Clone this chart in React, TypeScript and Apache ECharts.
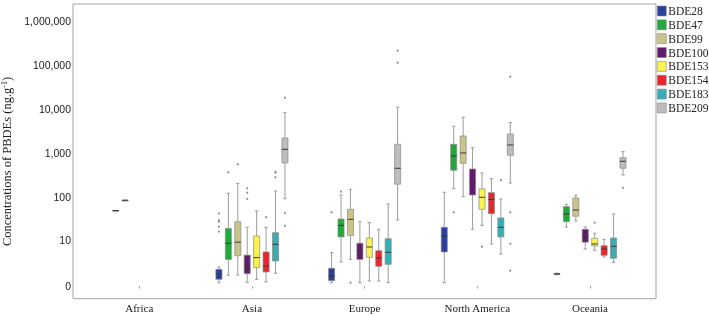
import React, { useEffect, useRef } from 'react';
import * as echarts from 'echarts';

// ---------- data (concentrations in ng/g) ----------
const regions = ['Africa', 'Asia', 'Europe', 'North America', 'Oceania'];
const congeners = ['BDE28', 'BDE47', 'BDE99', 'BDE100', 'BDE153', 'BDE154', 'BDE183', 'BDE209'];
const colors = ['#2b3f9c', '#22a83b', '#c9c489', '#611b6c', '#faf24e', '#e8262c', '#33afb5', '#bdbdbd'];

type Five = [number, number, number, number, number] | null; // min, Q1, median, Q3, max

const bde28: Five[] = [null, [0.19, 0.42, 0.87, 1.39, 1.7], [0.19, 0.32, 0.69, 1.52, 4.7], [0.19, 4.9, 12.5, 20.3, 131], [0.8, 0.84, 0.87, 0.93, 0.95]];
const bde47: Five[] = [[50, 50, 50, 50, 50], [0.75, 3.0, 8.3, 19, 124], [2.5, 11.9, 22.6, 31.8, 113.5], [159, 414, 872, 1603, 4093], [20.6, 27.5, 41.6, 61.3, 69.6]];
const bde99: Five[] = [[86, 86, 86, 86, 86], [0.78, 3.86, 8.8, 27.5, 209], [3.0, 12.8, 31.3, 53.4, 153], [104, 596, 1019, 2472, 6540], [28.6, 36.8, 51.5, 97, 111.7]];
const bde100: Five[] = [null, [0.22, 0.9, 1.47, 4.0, 20.3], [0.19, 3.0, 5.3, 8.3, 27.5], [18.2, 113.5, 213, 442, 1343], [5.88, 8.8, 12.5, 18.2, 20.6]];
const bde153: Five[] = [null, [0.42, 1.6, 3.4, 12.5, 48.8], [0.3, 3.47, 6.64, 11.2, 26.1], [22.6, 53.4, 100.6, 156.4, 359.6], [5.43, 7.05, 7.93, 11.0, 14.6]];
const bde154: Five[] = [null, [0.24, 1.08, 1.84, 4.9, 20.3], [0.3, 1.8, 3.31, 5.3, 18.2], [7.93, 42.3, 90.5, 128, 267], [3.54, 3.96, 5.88, 7.17, 10.4]];
const bde183: Five[] = [null, [0.94, 2.69, 7.8, 15.1, 140], [0.19, 2.1, 4.8, 10.8, 70.7], [4.3, 11.9, 20.3, 33.6, 92], [2.44, 3.24, 6.92, 11.2, 41.6]];
const bde209: Five[] = [null, [93, 606, 1236, 2228, 8318], [30.2, 200, 459, 1603, 11005], [213, 904, 1546, 2742, 4935], [323, 459, 661, 797, 1090]];

// outliers: [region index, concentration]
const out28: [number, number][] = [[1, 43], [1, 30], [1, 27.5], [1, 21], [1, 16], [2, 45.5]];
const out47: [number, number][] = [[1, 372], [2, 135], [3, 45.5]];
const out99: [number, number][] = [[1, 565], [2, 0.19]];
const out100: [number, number][] = [[1, 161], [1, 128], [1, 93]];
const out153: [number, number][] = [[3, 6.76], [4, 26.1]];
const out154: [number, number][] = [[1, 35]];
const out183: [number, number][] = [[1, 379], [1, 365], [1, 287], [3, 246]];
const out209: [number, number][] = [[1, 18150], [1, 44], [1, 22], [2, 209400], [2, 112200], [3, 54100], [3, 45.5], [3, 8.1], [3, 1.22], [4, 166]];

const yTickValues = [0, 10, 100, 1000, 10000, 100000, 1000000];

const summaries = [bde28, bde47, bde99, bde100, bde153, bde154, bde183, bde209];
const outliers = [out28, out47, out99, out100, out153, out154, out183, out209];

// ---------- helpers ----------
const toAxis = (c: number) => Math.log10(c + 1);
const fromAxis = (v: number) => Math.round(Math.pow(10, v) - 1);
const SERIF = '"Liberation Serif", "Times New Roman", serif';
const SANS = '"Liberation Sans", Arial, sans-serif';
const SLOT = 0.0837; // fraction of band per congener slot
const BOXF = 0.054;  // box width as fraction of band
const CAPF = 0.03;

const slotX = (api: any, xi: number, k: number) => {
  const band = api.size([1, 0])[0];
  return { cx: api.coord([xi, 0])[0] + (k - 3.5) * band * SLOT, band };
};

const makeBoxRender = (k: number) => (params: any, api: any) => {
  const xi = api.value(0);
  const { cx, band } = slotX(api, xi, k);
  const y = (d: number) => api.coord([xi, api.value(d)])[1];
  const yMin = y(1), yQ1 = y(2), yMed = y(3), yQ3 = y(4), yMax = y(5);
  const bw = band * BOXF;
  const hw = bw / 2;
  const cw = (band * CAPF) / 2;
  const whisker = { stroke: '#9c9c9c', lineWidth: 1 };
  return {
    type: 'group',
    children: [
      { type: 'line', shape: { x1: cx, y1: yMax, x2: cx, y2: yQ3 }, style: whisker },
      { type: 'line', shape: { x1: cx, y1: yQ1, x2: cx, y2: yMin }, style: whisker },
      { type: 'line', shape: { x1: cx - cw, y1: yMax, x2: cx + cw, y2: yMax }, style: whisker },
      { type: 'line', shape: { x1: cx - cw, y1: yMin, x2: cx + cw, y2: yMin }, style: whisker },
      {
        type: 'rect',
        shape: { x: cx - hw, y: yQ3, width: bw, height: Math.max(yQ1 - yQ3, 0.8) },
        style: { fill: api.visual('color'), stroke: '#8a8a8a', lineWidth: 0.7 },
      },
      { type: 'line', shape: { x1: cx - hw, y1: yMed, x2: cx + hw, y2: yMed }, style: { stroke: '#3a3a3a', lineWidth: 1 } },
    ],
  };
};

const makeOutlierRender = (k: number) => (params: any, api: any) => {
  const xi = api.value(0);
  const { cx } = slotX(api, xi, k);
  const py = api.coord([xi, api.value(1)])[1];
  return { type: 'circle', shape: { cx, cy: py, r: 1.1 }, style: { fill: '#8f8f8f' } };
};

export default function App() {
  const ref = useRef<HTMLDivElement>(null);
  useEffect(() => {
    if (!ref.current) return;
    const chart = echarts.init(ref.current, null, { renderer: 'svg' });

    const series: any[] = [];
    congeners.forEach((name, k) => {
      const data = summaries[k]
        .map((s, ri) => (s ? [ri, ...s.map(toAxis)] : null))
        .filter((d) => d !== null);
      series.push({
        type: 'custom',
        name,
        itemStyle: { color: colors[k] },
        renderItem: makeBoxRender(k),
        encode: { x: 0, y: [1, 2, 3, 4, 5] },
        data,
        silent: true,
      });
    });
    congeners.forEach((name, k) => {
      series.push({
        type: 'custom',
        name,
        itemStyle: { color: colors[k] },
        renderItem: makeOutlierRender(k),
        encode: { x: 0, y: 1 },
        data: outliers[k].map(([ri, v]) => [ri, toAxis(v)]),
        silent: true,
      });
    });

    chart.setOption({
      animation: false,
      grid: { left: 73, right: 53, top: 4, bottom: 17.3, show: true, borderColor: '#a3a3a3', borderWidth: 1 },
      legend: {
        orient: 'vertical',
        left: 657,
        top: 5,
        padding: 0,
        itemWidth: 9,
        itemHeight: 10,
        itemGap: 1.85,
        selectedMode: false,
        textStyle: { fontFamily: SERIF, fontSize: 11.5, color: '#222', padding: [0, 0, 0, -3] },
        data: congeners.map((n, i) => ({
          name: n,
          icon: 'rect',
          itemStyle: { color: colors[i], borderColor: '#8a8a8a', borderWidth: 0.6 },
        })),
      },
      xAxis: {
        type: 'value',
        min: -0.588,
        max: 4.586,
        splitLine: { show: false },
        axisLine: { show: false },
        axisTick: { show: true, customValues: regions.map((_, i) => i), length: 2.5, lineStyle: { color: '#a3a3a3' } },
        axisLabel: {
          customValues: regions.map((_, i) => i),
          formatter: (v: number) => regions[Math.round(v)] ?? '',
          fontFamily: SERIF,
          fontSize: 11,
          color: '#222',
          margin: 4,
        },
      },
      yAxis: {
        type: 'value',
        min: -0.286,
        max: 6.377,
        splitLine: { show: false },
        axisLine: { show: false },
        axisTick: { show: false },
        axisLabel: {
          customValues: yTickValues.map(toAxis),
          formatter: (v: number) => fromAxis(v).toLocaleString('en-US'),
          fontFamily: SANS,
          fontSize: 10.5,
          color: '#222',
          margin: 2,
        },
      },
      graphic: [
        {
          type: 'text',
          x: 7,
          y: 161.5,
          rotation: Math.PI / 2,
          style: {
            text: 'Concentrations of PBDEs (ng.g{sup|-1})',
            fontFamily: SERIF,
            fontSize: 12.5,
            fill: '#222',
            align: 'center',
            verticalAlign: 'middle',
            rich: {
              sup: { fontFamily: SERIF, fontSize: 8, fill: '#222', verticalAlign: 'top', padding: [0, 0, 5, 0] },
            },
          },
        },
      ],
      series,
    });
    return () => chart.dispose();
  }, []);
  return <div ref={ref} style={{ position: 'fixed', left: 0, top: 0, width: 709, height: 316 }} />;
}
